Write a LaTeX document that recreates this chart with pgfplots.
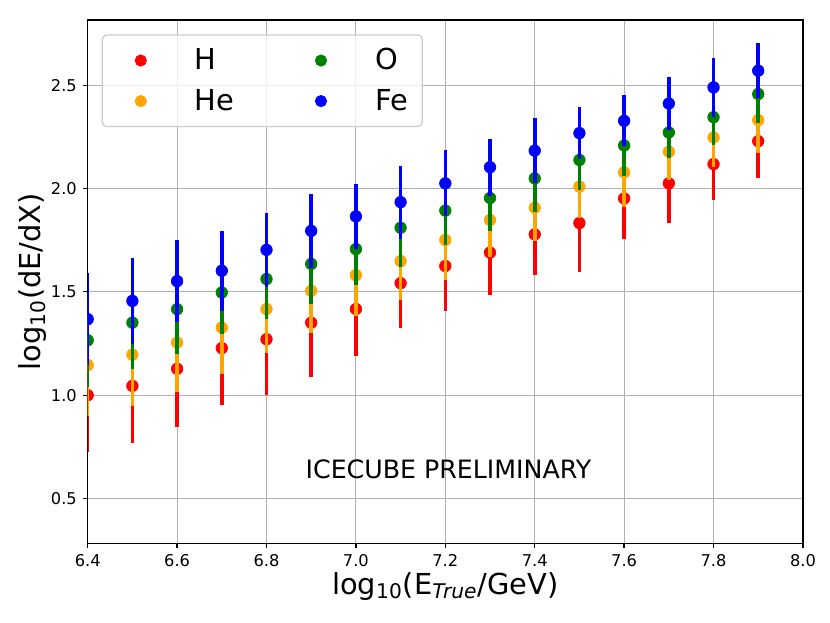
\documentclass[border=0pt]{standalone}
\usepackage{fontspec}
\setmainfont{DejaVu Sans}
\usepackage{pgfplots}
\pgfplotsset{compat=1.18}
\usepackage{pgfplotstable}
\definecolor{mplred}{HTML}{FF0000}
\definecolor{mplorange}{HTML}{FFA500}
\definecolor{mplgreen}{HTML}{008000}
\definecolor{mplblue}{HTML}{0000FF}
\definecolor{gridgray}{HTML}{B0B0B0}

\pgfplotsset{mylegimg/.style={legend image code/.code={\path[draw=none,fill=none] (0pt,-3pt) rectangle (43.3pt,3pt);\draw[mark repeat=2,mark phase=2,##1,only marks] plot coordinates {(0pt,0pt) (15.3pt,0pt) (43.3pt,0pt)};}}}

\pgfplotstableread{
x y e
6.4 1.000 0.277
6.5 1.045 0.277
6.6 1.128 0.280
6.7 1.228 0.275
6.8 1.271 0.270
6.9 1.351 0.264
7.0 1.417 0.227
7.1 1.542 0.218
7.2 1.625 0.216
7.3 1.690 0.203
7.4 1.778 0.197
7.5 1.833 0.235
7.6 1.952 0.196
7.7 2.025 0.190
7.8 2.118 0.174
7.9 2.229 0.178
}\Hdata

\pgfplotstableread{
x y e
6.4 1.146 0.246
6.5 1.196 0.250
6.6 1.255 0.237
6.7 1.327 0.223
6.8 1.417 0.211
6.9 1.505 0.202
7.0 1.581 0.200
7.1 1.649 0.188
7.2 1.751 0.195
7.3 1.848 0.180
7.4 1.907 0.160
7.5 2.009 0.150
7.6 2.078 0.166
7.7 2.178 0.137
7.8 2.247 0.143
7.9 2.331 0.161
}\Hedata

\pgfplotstableread{
x y e
6.4 1.266 0.225
6.5 1.351 0.225
6.6 1.416 0.218
6.7 1.497 0.200
6.8 1.562 0.193
6.9 1.635 0.196
7.0 1.707 0.174
7.1 1.810 0.189
7.2 1.893 0.166
7.3 1.954 0.160
7.4 2.049 0.164
7.5 2.138 0.145
7.6 2.208 0.149
7.7 2.271 0.125
7.8 2.345 0.133
7.9 2.457 0.142
}\Odata

\pgfplotstableread{
x y e
6.4 1.368 0.221
6.5 1.456 0.207
6.6 1.552 0.199
6.7 1.602 0.194
6.8 1.703 0.180
6.9 1.795 0.178
7.0 1.865 0.157
7.1 1.934 0.176
7.2 2.025 0.160
7.3 2.103 0.138
7.4 2.183 0.158
7.5 2.268 0.127
7.6 2.327 0.123
7.7 2.411 0.127
7.8 2.489 0.141
7.9 2.570 0.133
}\Fedata

\begin{document}
\begin{tikzpicture}
\begin{axis}[
  scale only axis, width=396.4pt, height=290.2pt,
  xmin=6.4, xmax=8.0, ymin=0.282, ymax=2.815,
  xtick={6.4,6.6,6.8,7.0,7.2,7.4,7.6,7.8,8.0},
  ytick={0.5,1.0,1.5,2.0,2.5},
  grid=major, major grid style={gridgray, line width=0.65pt},
  axis line style={line width=0.7pt, black},
  tick align=outside, tick pos=left, major tick length=2.5pt,
  tick style={black, line width=0.7pt},
  ticklabel style={font=\fontsize{9}{11}\selectfont},
  /pgf/number format/assume math mode=true,
  xticklabel style={/pgf/number format/.cd,fixed,fixed zerofill,precision=1},
  yticklabel style={/pgf/number format/.cd,fixed,fixed zerofill,precision=1},
  clip marker paths=true,
  xlabel={log\textsubscript{10}(E\textsubscript{\textit{True}}/GeV)},
  ylabel={log\textsubscript{10}(dE/dX)},
  xlabel style={at={(axis description cs:0.5,-0.0966)}, anchor=base, font=\fontsize{16}{19}\selectfont},
  ylabel style={at={(axis description cs:-0.066,0.5)}, anchor=base, font=\fontsize{16}{19}\selectfont},
  legend columns=2,
  legend style={at={(0.0196,0.9727)}, anchor=north west, draw=black!20, line width=0.7pt,
    rounded corners=2.5pt, fill=white, fill opacity=0.8, text opacity=1, draw opacity=1,
    inner xsep=6pt, inner ysep=5.5pt, row sep=5.2pt,
    cells={anchor=west}, nodes={inner sep=2pt, text depth=0.15em},
    /tikz/every even column/.append style={column sep=30.7pt},
    font=\fontsize{16}{19}\selectfont},
]
\coordinate (bl) at (rel axis cs:0,0);
\coordinate (tr) at (rel axis cs:1,1);

\addplot[forget plot, only marks, mark=*, mark size=3.2pt, color=mplred,
  error bars/.cd, y dir=both, y explicit, error mark=none,
  error bar style={line width=2pt, mplred}]
  table[x=x, y=y, y error=e] {\Hdata};
\addplot[forget plot, only marks, mark=*, mark size=3.2pt, color=mplorange,
  error bars/.cd, y dir=both, y explicit, error mark=none,
  error bar style={line width=2pt, mplorange}]
  table[x=x, y=y, y error=e] {\Hedata};
\addplot[forget plot, only marks, mark=*, mark size=3.2pt, color=mplgreen,
  error bars/.cd, y dir=both, y explicit, error mark=none,
  error bar style={line width=2pt, mplgreen}]
  table[x=x, y=y, y error=e] {\Odata};
\addplot[forget plot, only marks, mark=*, mark size=3.2pt, color=mplblue,
  error bars/.cd, y dir=both, y explicit, error mark=none,
  error bar style={line width=2pt, mplblue}]
  table[x=x, y=y, y error=e] {\Fedata};

\addlegendimage{only marks, mark=*, mark size=3pt, mplred, fill opacity=1, mylegimg}
\addlegendentry{H}
\addlegendimage{only marks, mark=*, mark size=3pt, mplgreen, fill opacity=1, mylegimg}
\addlegendentry{O}
\addlegendimage{only marks, mark=*, mark size=3pt, mplorange, fill opacity=1, mylegimg}
\addlegendentry{He}
\addlegendimage{only marks, mark=*, mark size=3pt, mplblue, fill opacity=1, mylegimg}
\addlegendentry{Fe}

\node[anchor=base, font=\fontsize{14}{17}\selectfont] at (axis cs:7.207,0.596) {ICECUBE PRELIMINARY};
\end{axis}
\pgfresetboundingbox
\useasboundingbox ([shift={(-48.6pt,-43.9pt)}]bl) rectangle ([shift={(15pt,11.1pt)}]tr);
\end{tikzpicture}
\end{document}
